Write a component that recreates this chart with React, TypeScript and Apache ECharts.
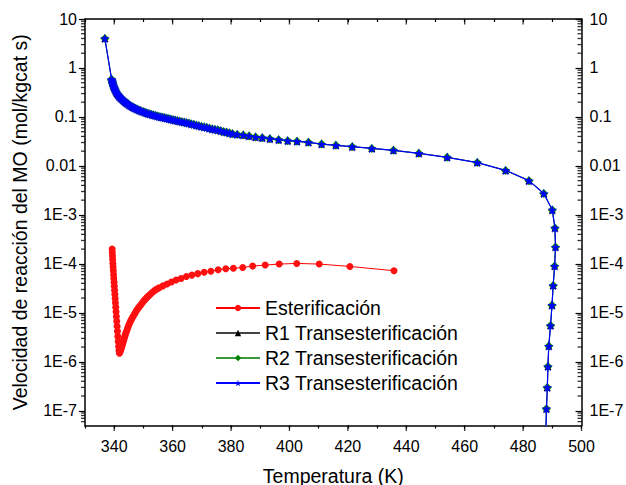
import React, { useEffect, useRef } from "react";
import * as echarts from "echarts";

// ---------- data ----------
const xMin = 330;
const xMax = 500;
const yMin = 5e-8;
const yMax = 10;

// Transesterification (R1, R2, R3 overlap in the figure)
const transTemps = [
  336.8, 339.1, 339.2, 339.3, 339.4, 339.5, 339.65, 339.8, 339.95, 340.1, 340.3, 340.5, 340.75,
  341.0, 341.25, 341.5, 341.75, 342.0, 342.3, 342.6, 342.95, 343.3, 343.65, 344.0, 344.4, 344.8,
  345.2, 345.6, 346.05, 346.5, 346.95, 347.4, 347.9, 348.4, 348.9, 349.4, 349.95, 350.5, 351.05,
  351.6, 352.2, 352.8, 353.4, 354.0, 354.65, 355.3, 355.95, 356.6, 357.3, 358.0, 358.7, 359.4,
  360.15, 360.9, 361.65, 362.4, 363.2, 364.0, 364.8, 365.6, 366.45, 367.3, 368.15, 369.0, 369.9,
  370.8, 371.7, 372.6, 373.55, 374.5, 375.5, 376.5, 377.5, 378.5, 379.5, 380.5,
  382.1, 384.2, 386.2, 388.4, 390.7, 393.3, 396.3, 399.4, 402.6, 406.5, 411.0, 415.9, 421.5,
  428.2, 435.6, 444.3, 454.0, 464.3, 474.0, 482.0, 487.1, 490.0, 490.9, 491.1, 490.8, 490.3,
  489.9, 489.4, 488.8, 488.5, 488.3, 488.0, 487.8,
];
const transRates = [
  4.0, 0.59, 0.56, 0.53, 0.505, 0.48, 0.45, 0.42, 0.4, 0.38, 0.36, 0.34, 0.32,
  0.3, 0.287, 0.275, 0.265, 0.255, 0.245, 0.235, 0.225, 0.215, 0.206, 0.198, 0.19, 0.183,
  0.176, 0.17, 0.164, 0.158, 0.153, 0.148, 0.143, 0.139, 0.135, 0.131, 0.1275, 0.124, 0.121,
  0.118, 0.115, 0.112, 0.1095, 0.107, 0.1045, 0.102, 0.1, 0.098, 0.096, 0.094, 0.092, 0.09,
  0.088, 0.086, 0.084, 0.082, 0.08, 0.078, 0.076, 0.074, 0.072, 0.07, 0.068, 0.066, 0.064,
  0.0625, 0.061, 0.059, 0.057, 0.0556, 0.054, 0.052, 0.05, 0.0486, 0.047, 0.0455,
  0.044, 0.0426, 0.0407, 0.0388, 0.0377, 0.036, 0.0343, 0.0328, 0.0317, 0.0303, 0.0279, 0.0263, 0.0247,
  0.0228, 0.0208, 0.0181, 0.015, 0.0117, 0.0081, 0.005, 0.00273, 1.26e-3, 5.4e-4, 2.2e-4, 9.0e-5, 3.6e-5,
  1.43e-5, 5.5e-6, 2.1e-6, 8.0e-7, 3.0e-7, 1.1e-7, 4.0e-8,
];

// Esterification
const esterTemps = [
  339.3, 339.35, 339.42, 339.48, 339.55, 339.62, 339.7, 339.78, 339.86, 339.95, 340.04, 340.13,
  340.22, 340.32, 340.42, 340.53, 340.64, 340.75, 340.87, 340.99, 341.11, 341.23, 341.36, 341.5,
  341.65, 341.8, 342.0, 342.2, 342.4, 342.6, 342.8, 343.0, 343.2, 343.4, 343.6, 343.8, 344.0,
  344.25, 344.5, 344.75, 345.0, 345.3, 345.6, 345.9, 346.2, 346.55, 346.9, 347.25, 347.6, 348.0,
  348.4, 348.8, 349.2, 349.65, 350.1, 350.55, 351.0, 351.5, 352.0, 352.55, 353.1, 353.65, 354.2,
  354.8, 355.4, 356.7, 358.1, 359.6, 361.2, 362.9, 364.7, 366.6, 368.6, 370.8, 373.1, 375.6,
  378.2, 380.8, 384.0, 387.4, 391.7, 396.5, 402.5, 410.2, 420.7, 435.8,
];
const esterRates = [
  2.0e-4, 1.7e-4, 1.45e-4, 1.22e-4, 1.02e-4, 8.6e-5, 7.2e-5, 6.0e-5, 5.0e-5, 4.2e-5, 3.5e-5, 2.9e-5,
  2.4e-5, 1.95e-5, 1.6e-5, 1.3e-5, 1.05e-5, 8.4e-6, 6.7e-6, 5.3e-6, 4.2e-6, 3.3e-6, 2.6e-6, 2.05e-6,
  1.7e-6, 1.5e-6, 1.58e-6, 1.72e-6, 1.86e-6, 2.04e-6, 2.24e-6, 2.46e-6, 2.69e-6, 2.95e-6, 3.24e-6, 3.55e-6, 3.89e-6,
  4.27e-6, 4.68e-6, 5.13e-6, 5.62e-6, 6.17e-6, 6.76e-6, 7.33e-6, 7.94e-6, 8.6e-6, 9.33e-6, 1.01e-5, 1.1e-5, 1.19e-5,
  1.29e-5, 1.38e-5, 1.48e-5, 1.6e-5, 1.74e-5, 1.86e-5, 2.0e-5, 2.14e-5, 2.29e-5, 2.45e-5, 2.63e-5, 2.79e-5, 2.95e-5,
  3.1e-5, 3.24e-5, 3.55e-5, 3.89e-5, 4.27e-5, 4.68e-5, 5.01e-5, 5.5e-5, 5.89e-5, 6.31e-5, 6.76e-5, 7.08e-5, 7.59e-5,
  7.94e-5, 8.1e-5, 8.45e-5, 9.0e-5, 9.45e-5, 9.9e-5, 1.02e-4, 9.9e-5, 8.85e-5, 7.23e-5,
];

const seriesNames = [
  "Esterificación",
  "R1 Transesterificación",
  "R2 Transesterificación",
  "R3 Transesterificación",
];

const xMajorTicks = [340, 360, 380, 400, 420, 440, 460, 480, 500];
const minorMultipliers = [2, 3, 4, 5, 6, 7, 8, 9];
const decadeExponents = [-8, -7, -6, -5, -4, -3, -2, -1, 0];

// ---------- helpers ----------
const FONT = "Liberation Sans, Arial, sans-serif";
const STAR =
  "path://M50,0 L61.8,35.5 L99,35.5 L69,57.5 L80.5,93 L50,71 L19.5,93 L31,57.5 L1,35.5 L38.2,35.5 Z";

const minorTickValues: number[] = [];
decadeExponents.forEach((e) =>
  minorMultipliers.forEach((m) => {
    const v = m * Math.pow(10, e);
    if (v > yMin && v < yMax) minorTickValues.push(v);
  })
);

const pairs = (xs: number[], ys: number[]) => xs.map((x, i) => [x, ys[i]]);

const yLabel = (v: number) => {
  const e = Math.round(Math.log10(v));
  if (e >= 0) return String(Math.round(Math.pow(10, e)));
  if (e >= -2) return Math.pow(10, e).toFixed(-e);
  return "1E" + e;
};

const axisLine = { show: true, lineStyle: { color: "#000", width: 1.5 } };
const tickStyle = { color: "#000", width: 1.2 };
const labelFont = { fontFamily: FONT, fontSize: 16, color: "#000" };
const titleFont = { fontFamily: FONT, fontSize: 19.5, color: "#000" };

const tickMarks = (data: number[][], size: number[], offset: number[]) => ({
  type: "scatter",
  silent: true,
  clip: false,
  symbol: "rect",
  symbolSize: size,
  symbolOffset: offset,
  itemStyle: { color: "#000" },
  z: 6,
  data,
});

export default function App() {
  const ref = useRef<HTMLDivElement>(null);

  useEffect(() => {
    const chart = echarts.init(ref.current!, null, { renderer: "svg" });
    const transData = pairs(transTemps, transRates);
    const option: any = {
      animation: false,
      backgroundColor: "#fff",
      grid: { left: 85, right: 44.5, top: 19, bottom: 59.5, containLabel: false, outerBoundsMode: "none" },
      legend: {
        data: seriesNames,
        orient: "vertical",
        left: 210,
        top: 293,
        itemWidth: 44,
        itemHeight: 8,
        itemGap: 5,
        textStyle: titleFont,
      },
      xAxis: [
        {
          type: "value",
          min: xMin,
          max: xMax,
          interval: 10,
          name: "Temperatura (K)",
          nameLocation: "middle",
          nameGap: 40,
          nameTextStyle: titleFont,
          axisLine,
          axisTick: { show: true, length: 3, lineStyle: tickStyle },
          axisLabel: {
            margin: 13,
            ...labelFont,
            formatter: (v: number) => (Math.round(v) % 20 === 0 ? String(Math.round(v)) : ""),
          },
          splitLine: { show: false },
        },
        {
          type: "value",
          position: "top",
          min: xMin,
          max: xMax,
          interval: 10,
          axisLine,
          axisTick: { show: true, inside: true, length: 3, lineStyle: tickStyle },
          axisLabel: { show: false },
          splitLine: { show: false },
        },
      ],
      yAxis: [
        {
          type: "log",
          logBase: 10,
          min: yMin,
          max: yMax,
          name: "Velocidad de reacción del MO (mol/kgcat s)",
          nameLocation: "middle",
          nameGap: 55,
          nameTextStyle: titleFont,
          axisLine,
          axisTick: { show: true, length: 6, lineStyle: tickStyle },
          axisLabel: { margin: 8, ...labelFont, showMinLabel: false, formatter: yLabel },
          splitLine: { show: false },
        },
        {
          type: "log",
          logBase: 10,
          position: "right",
          min: yMin,
          max: yMax,
          axisLine,
          axisTick: { show: true, inside: true, length: 6, lineStyle: tickStyle },
          axisLabel: { margin: 8, ...labelFont, showMinLabel: false, formatter: yLabel },
          splitLine: { show: false },
        },
      ],
      series: [
        // minor log ticks, left (outward) and right (inward)
        tickMarks(minorTickValues.map((v) => [xMin, v]), [4, 1.3], [-2, 0]),
        tickMarks(minorTickValues.map((v) => [xMax, v]), [4, 1.3], [-2, 0]),
        // longer major temperature ticks, bottom (outward) and top (inward)
        tickMarks(xMajorTicks.map((t) => [t, yMin]), [1.3, 5.5], [0, 2.75]),
        tickMarks(xMajorTicks.map((t) => [t, yMax]), [1.3, 5.5], [0, 2.75]),
        {
          name: seriesNames[1],
          type: "line",
          data: transData,
          symbol: "triangle",
          symbolSize: 7,
          lineStyle: { color: "#444", width: 1 },
          itemStyle: { color: "#000" },
          z: 2,
        },
        {
          name: seriesNames[2],
          type: "line",
          data: transData,
          symbol: "diamond",
          symbolSize: 9,
          lineStyle: { color: "#3c9a3c", width: 1 },
          itemStyle: { color: "#008000" },
          z: 3,
        },
        {
          name: seriesNames[3],
          type: "line",
          data: transData,
          symbol: STAR,
          symbolSize: 9.5,
          lineStyle: { color: "#0000ff", width: 1.2 },
          itemStyle: { color: "#0000ff" },
          z: 4,
        },
        {
          name: seriesNames[0],
          type: "line",
          data: pairs(esterTemps, esterRates),
          symbol: "circle",
          symbolSize: 7,
          lineStyle: { color: "#ff0000", width: 1 },
          itemStyle: { color: "#ff1010" },
          z: 4,
        },
      ],
    };
    chart.setOption(option);
    return () => chart.dispose();
  }, []);

  return (
    <div
      ref={ref}
      style={{ position: "absolute", left: 0, top: 0, width: 626, height: 485, background: "#fff" }}
    />
  );
}
